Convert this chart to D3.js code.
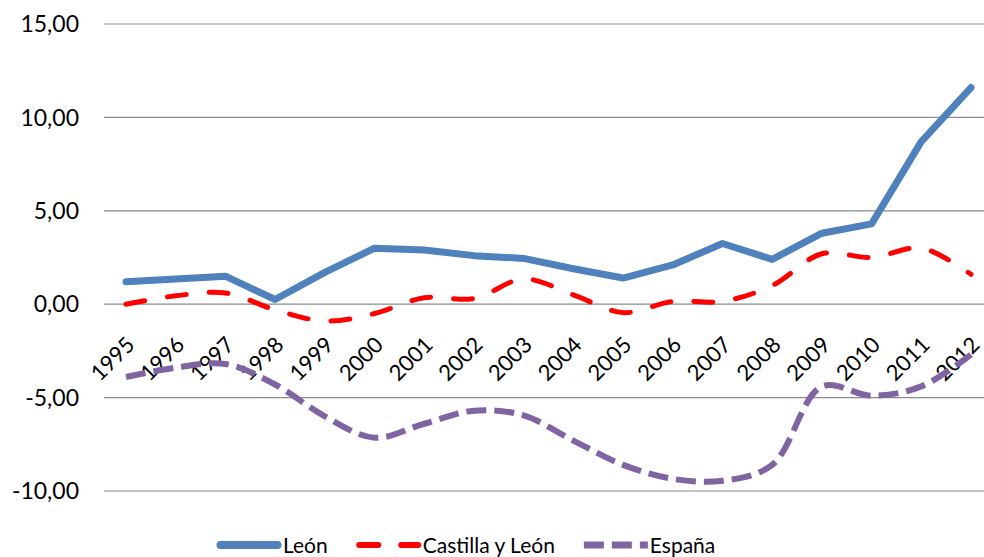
<!DOCTYPE html>
<html>
<head>
<meta charset="utf-8">
<script src="https://cdn.jsdelivr.net/npm/d3@7"></script>
<style>
  body { margin: 0; background: #fff; }
  text { font-family: Lato, "Open Sans", sans-serif; fill: #000; }
</style>
</head>
<body>
<div class="canvas"></div>
<script>
// data
const years = ["1995", "1996", "1997", "1998", "1999", "2000", "2001", "2002", "2003",
    "2004", "2005", "2006", "2007", "2008", "2009", "2010", "2011", "2012"]
const leon = [1.2, 1.35, 1.5, 0.25, 1.7, 3.0, 2.9, 2.6, 2.45, 1.9, 1.4, 2.1, 3.25, 2.4, 3.8, 4.3, 8.7, 11.6]
const castilla = [0.0, 0.45, 0.6, -0.3, -0.9, -0.5, 0.35, 0.3, 1.35, 0.5, -0.45, 0.15, 0.15, 1.0, 2.7, 2.5, 3.0, 1.6]
const espana = [-3.9, -3.4, -3.2, -4.3, -6.0, -7.15, -6.4, -5.7, -5.95, -7.3, -8.6, -9.35, -9.45, -8.6, -4.4, -4.9, -4.4, -2.7]
const yTicks = [-10, -5, 0, 5, 10, 15]

const series = [
    { name: "León", values: leon, color: "#4f81bd", width: 7, dash: null, cap: "round", smooth: false },
    { name: "Castilla y León", values: castilla, color: "#ff0000", width: 5, dash: "19,23", cap: "round", smooth: true },
    { name: "España", values: espana, color: "#8064a2", width: 6, dash: "20,8", cap: "butt", smooth: true }
]

/**
 * Dimensions
 */
const dims = { width: 984, height: 557 }
const svg = d3.select(".canvas")
    .append("svg")
    .attr("width", dims.width)
    .attr("height", dims.height)

const x = d3.scalePoint()
    .domain(years)
    .range([126, 971])

const y = d3.scaleLinear()
    .domain([-10, 15])
    .range([491, 24])

// gridlines
svg.append("g")
    .selectAll("line")
    .data(yTicks)
    .enter()
    .append("line")
    .attr("x1", 104)
    .attr("x2", dims.width)
    .attr("y1", d => y(d))
    .attr("y2", d => y(d))
    .attr("stroke", "#8a8a8a")
    .attr("stroke-width", 1.2)

// y labels
const fmt = d => d3.format(".2f")(d).replace(".", ",").replace("−", "-")
svg.append("g")
    .selectAll("text")
    .data(yTicks)
    .enter()
    .append("text")
    .attr("x", 79)
    .attr("y", d => y(d))
    .attr("dy", "0.36em")
    .attr("text-anchor", "end")
    .attr("font-size", 23)
    .text(fmt)

// x labels, rotated
svg.append("g")
    .selectAll("text")
    .data(years)
    .enter()
    .append("text")
    .attr("text-anchor", "end")
    .attr("font-size", 22)
    .attr("transform", d => `translate(${x(d) + 10}, ${y(0) + 42}) rotate(-45)`)
    .text(d => d)

// lines
const smoothLine = d3.line()
    .x((d, i) => x(years[i]))
    .y(d => y(d))
    .curve(d3.curveCatmullRom.alpha(0.5))
const straightLine = d3.line()
    .x((d, i) => x(years[i]))
    .y(d => y(d))

svg.append("g")
    .selectAll("path")
    .data(series)
    .enter()
    .append("path")
    .attr("fill", "none")
    .attr("stroke", d => d.color)
    .attr("stroke-width", d => d.width)
    .attr("stroke-dasharray", d => d.dash)
    .attr("stroke-linecap", d => d.cap)
    .attr("stroke-linejoin", "round")
    .attr("d", d => d.smooth ? smoothLine(d.values) : straightLine(d.values))

/**
 * Legend
 */
const legend = svg.append("g")
let lx = 217
const ly = 545
series.forEach(s => {
    legend.append("line")
        .attr("x1", lx + (s.cap === "round" ? s.width / 2 : 0))
        .attr("x2", lx + 64 - (s.cap === "round" ? s.width / 2 : 0))
        .attr("y1", ly)
        .attr("y2", ly)
        .attr("stroke", s.color)
        .attr("stroke-width", s.width + 1)
        .attr("stroke-dasharray", s.dash)
        .attr("stroke-linecap", s.cap)
    const t = legend.append("text")
        .attr("x", lx + 66)
        .attr("y", ly + 8)
        .attr("font-size", 21)
        .text(s.name)
    lx += 66 + t.node().getComputedTextLength() + 29
})
</script>
</body>
</html>
